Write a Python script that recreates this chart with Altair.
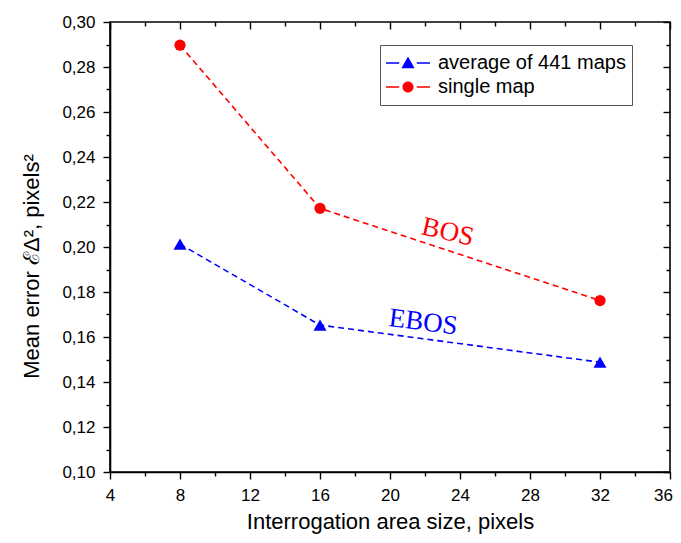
import altair as alt
import pandas as pd

# ---- data ----
series_names = ["average of 441 maps", "single map"]
sizes = [8, 16, 32]
avg_err = [0.2013, 0.1653, 0.1488]
single_err = [0.2897, 0.2172, 0.1762]
colors = ["#0000ff", "#ff0000"]
point_shapes = ["triangle-up", "circle"]
point_sizes = [170, 125]

ann_text = ["BOS", "EBOS"]
ann_series = ["single map", "average of 441 maps"]
ann_x = [23.3, 21.9]
ann_y = [0.2066, 0.1665]
ann_angle = [13, 7]

x_ticks = list(range(4, 37, 2))
y_ticks = [round(0.10 + 0.01 * i, 2) for i in range(21)]

rows = []
for s, vals in zip(series_names, [avg_err, single_err]):
    for x, v in zip(sizes, vals):
        rows.append({"size": x, "err": v, "series": s})
df = pd.DataFrame(rows)
ann = pd.DataFrame({"text": ann_text, "series": ann_series, "x": ann_x,
                    "y": ann_y, "angle": ann_angle})

# legend symbols: dash - marker - dash
tri_path = ("M-1,-0.035H-0.4V0.035H-1Z M0.4,-0.035H1V0.035H0.4Z "
            "M-0.3,0.24L0,-0.3L0.3,0.24Z")
circ_path = ("M-1,-0.035H-0.4V0.035H-1Z M0.4,-0.035H1V0.035H0.4Z "
             "M-0.25,0A0.25,0.25 0 1,0 0.25,0A0.25,0.25 0 1,0 -0.25,0Z")

x_scale = alt.Scale(domain=[4, 36], nice=False, zero=False)
y_scale = alt.Scale(domain=[0.10, 0.30], nice=False, zero=False)
color_scale = alt.Scale(domain=series_names, range=colors)

FONT = "Liberation Sans"

x_major = "datum.value % 4 == 0"
y_major = "round(datum.value * 100) % 2 == 0"

x_axis_bottom = alt.Axis(
    values=x_ticks, title="Interrogation area size, pixels",
    labelExpr=f"{x_major} ? datum.label : ''",
    tickSize={"condition": {"test": x_major, "value": 7}, "value": 4},
    labelOffset={"condition": {"test": "datum.value == 36", "value": -7}, "value": 0},
    labelOverlap=False, labelFlush=False, titlePadding=8, labelPadding=8,
    titleFontSize=22,
)
y_axis_left = alt.Axis(
    values=y_ticks, title="Mean error ℰΔ², pixels²",
    labelExpr=f"{y_major} ? replace(format(datum.value, '.2f'), '.', ',') : ''",
    tickSize={"condition": {"test": y_major, "value": 7}, "value": 4},
    labelOverlap=False, labelFlush=False, titlePadding=18, labelPadding=8,
    titleFontSize=22, titleY=244,
)
# inner ticks on the top / right frame: axis shifted inside, ticks point to the frame
x_axis_top = alt.Axis(
    orient="top", values=x_ticks, title=None, labels=False, domain=False,
    offset=-7, tickSize=7,
    tickDash={"condition": {"test": x_major, "value": [7, 0]}, "value": [0, 3, 4, 20]},
)
y_axis_right = alt.Axis(
    orient="right", values=y_ticks, title=None, labels=False, domain=False,
    offset=-7, tickSize=7,
    tickDash={"condition": {"test": y_major, "value": [7, 0]}, "value": [0, 3, 4, 20]},
)

base = alt.Chart(df)

lines = base.mark_line(strokeDash=[6, 4], strokeWidth=1.6).encode(
    x=alt.X("size:Q", scale=x_scale, axis=x_axis_bottom),
    y=alt.Y("err:Q", scale=y_scale, axis=y_axis_left),
    color=alt.Color("series:N", scale=color_scale, legend=None),
    detail="series:N",
)

points = base.mark_point(filled=True, opacity=1).encode(
    x=alt.X("size:Q", scale=x_scale, axis=x_axis_top),
    y=alt.Y("err:Q", scale=y_scale, axis=y_axis_right),
    color=alt.Color("series:N", scale=color_scale, legend=None),
    shape=alt.Shape("series:N", scale=alt.Scale(domain=series_names, range=point_shapes),
                    legend=None),
    size=alt.Size("series:N", scale=alt.Scale(domain=series_names, range=point_sizes),
                  legend=None),
)

leg = dict(title=None, orient="none", legendX=270, legendY=23,
           symbolSize=1936, symbolOpacity=1, symbolStrokeWidth=0,
           clipHeight=24, rowPadding=0, labelFont=FONT, labelFontSize=20,
           labelLimit=400, labelColor="black", labelOffset=8, padding=6,
           strokeColor="#555555", fillColor="white")

legend_layer = base.mark_point(filled=True, opacity=0).encode(
    x=alt.X("size:Q", scale=x_scale, axis=None),
    y=alt.Y("err:Q", scale=y_scale, axis=None),
    color=alt.Color("series:N", scale=color_scale, legend=alt.Legend(**leg)),
    shape=alt.Shape("series:N", scale=alt.Scale(domain=series_names,
                                                range=[tri_path, circ_path]),
                    legend=alt.Legend(**leg)),
)

texts = alt.Chart(ann).mark_text(font="Liberation Serif", fontSize=27,
                                 align="center", baseline="middle").encode(
    x=alt.X("x:Q", scale=x_scale, axis=None),
    y=alt.Y("y:Q", scale=y_scale, axis=None),
    text="text:N",
    angle=alt.Angle("angle:Q", scale=None),
    color=alt.Color("series:N", scale=color_scale, legend=None),
)

chart = alt.layer(lines, points, legend_layer, texts).resolve_axis(
    x="independent", y="independent"
).resolve_scale(
    shape="independent", size="independent"
).resolve_legend(
    color="independent", shape="independent", size="independent"
).properties(
    width=560, height=450,
    autosize=alt.AutoSizeParams(type="none"),
    padding={"left": 102, "top": 14, "right": 3, "bottom": 63},
).configure_view(
    stroke="black", strokeWidth=1.6
).configure_axis(
    grid=False, domainColor="black", domainWidth=1.6, tickColor="black",
    tickWidth=1.4, labelColor="black", titleColor="black", labelFont=FONT,
    labelFontSize=17, titleFont=FONT, titleFontWeight="normal",
)

chart.save("out.html", embed_options={"renderer": "svg", "actions": False})
